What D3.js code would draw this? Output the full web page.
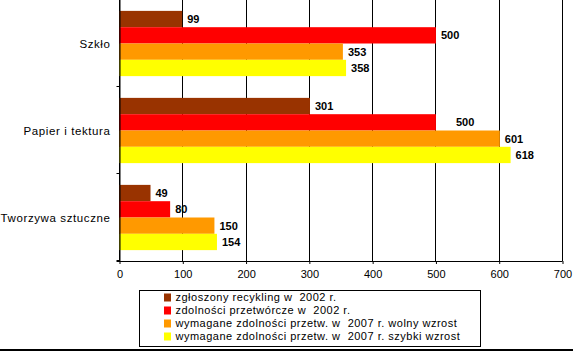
<!DOCTYPE html>
<html>
<head>
<meta charset="utf-8">
<script src="https://cdnjs.cloudflare.com/ajax/libs/d3/7.8.5/d3.min.js"></script>
<style>
  body { margin: 0; background: #fff; }
  svg { display: block; font-family: Arial, "Liberation Sans", sans-serif; }
  .tick text { font-size: 11px; fill: #000; }
  .lbl { font-size: 11px; font-weight: bold; }
  .cat { font-size: 11.5px; letter-spacing: 0.6px; }
  .leg { font-size: 11px; letter-spacing: 0.5px; }
</style>
</head>
<body>
<svg id="chart"></svg>
<script>
'use strict'

// categories, top to bottom
const categories = ['Szkło', 'Papier i tektura', 'Tworzywa sztuczne']
// series names (legend order)
const seriesNames = [
  'zgłoszony recykling w  2002 r.',
  'zdolności przetwórcze w  2002 r.',
  'wymagane zdolności przetw. w  2007 r. wolny wzrost',
  'wymagane zdolności przetw. w  2007 r. szybki wzrost'
]
// values per series, in category order
const recykling2002 = [99, 301, 49]
const zdolnosci2002 = [500, 500, 80]
const wolnyWzrost = [353, 601, 150]
const szybkiWzrost = [358, 618, 154]
const xTicks = [0, 100, 200, 300, 400, 500, 600, 700]

const colors = ['#993300', '#ff0000', '#ff9900', '#ffff00']
const seriesValues = [recykling2002, zdolnosci2002, wolnyWzrost, szybkiWzrost]

const width = 573, height = 352
const margins = {top: 0, left: 119.5, right: 10.5, bottom: 91}
const chartWidth = width - margins.left - margins.right
const chartHeight = 261

const svg = d3.select('#chart').attr('width', width).attr('height', height)
const g = svg.append('g').attr('transform', 'translate(' + margins.left + ',' + margins.top + ')')

const x = d3.scaleLinear().domain([0, 700]).range([0, chartWidth])
const y = d3.scaleBand().domain(categories).range([0, chartHeight])
const ySeries = d3.scaleBand().domain(d3.range(seriesNames.length))
  .range([0, y.bandwidth()]).paddingOuter(0.667)

// vertical gridlines
g.selectAll('line.grid')
  .data(xTicks)
  .enter().append('line')
    .attr('x1', d => x(d)).attr('x2', d => x(d))
    .attr('y1', 0).attr('y2', chartHeight)
    .attr('stroke', '#000').attr('stroke-width', 1)
    .attr('shape-rendering', 'crispEdges')

// bars
const rows = []
categories.forEach((c, ci) => {
  seriesValues.forEach((vals, si) => rows.push({cat: c, s: si, v: vals[ci]}))
})

g.selectAll('rect.bar')
  .data(rows)
  .enter().append('rect')
    .attr('x', 0)
    .attr('y', d => y(d.cat) + ySeries(d.s))
    .attr('width', d => x(d.v))
    .attr('height', ySeries.bandwidth())
    .attr('fill', d => colors[d.s])

// value labels (Excel pushed one label aside)
const nudge = {'Papier i tektura|1': 15}
g.selectAll('text.lbl')
  .data(rows)
  .enter().append('text')
    .attr('class', 'lbl')
    .attr('x', d => x(d.v) + 5 + (nudge[d.cat + '|' + d.s] || 0))
    .attr('y', d => y(d.cat) + ySeries(d.s) + ySeries.bandwidth() / 2)
    .attr('dy', '0.35em')
    .text(d => d.v)

// x axis
const xAxis = g.append('g')
  .attr('transform', 'translate(0,' + chartHeight + ')')
  .call(d3.axisBottom(x).tickValues(xTicks).tickSize(3).tickPadding(6))
xAxis.select('.domain').attr('stroke', '#000').attr('d', 'M-3,0.5H' + chartWidth)
xAxis.selectAll('.tick line').attr('stroke', '#000')

// y axis: ticks at category boundaries
g.append('line')
  .attr('x1', 0.5).attr('x2', 0.5).attr('y1', 0).attr('y2', chartHeight)
  .attr('stroke', '#000')
g.selectAll('line.ytick')
  .data(categories.concat(['end']))
  .enter().append('line')
    .attr('x1', -3).attr('x2', 0)
    .attr('y1', (d, i) => i * y.step() - 0.5)
    .attr('y2', (d, i) => i * y.step() - 0.5)
    .attr('stroke', '#000')

g.selectAll('text.cat')
  .data(categories)
  .enter().append('text')
    .attr('class', 'cat')
    .attr('x', -9)
    .attr('y', d => y(d) + y.bandwidth() / 2)
    .attr('dy', '0.35em')
    .attr('text-anchor', 'end')
    .text(d => d)

// legend
const legend = svg.append('g').attr('transform', 'translate(139.5,290.5)')
legend.append('rect')
  .attr('width', 341).attr('height', 56)
  .attr('fill', '#fff').attr('stroke', '#000')
const item = legend.selectAll('g.item')
  .data(seriesNames)
  .enter().append('g')
    .attr('transform', (d, i) => 'translate(24,' + (7 + i * 13) + ')')
item.append('rect')
  .attr('x', 0.5).attr('y', -4)
  .attr('width', 7).attr('height', 8)
  .attr('fill', (d, i) => colors[i])
item.append('text')
  .attr('class', 'leg')
  .attr('x', 12)
  .attr('dy', '0.35em')
  .style('white-space', 'pre')
  .text(d => d)

// bottom rule
svg.append('line')
  .attr('x1', 0).attr('x2', width)
  .attr('y1', 350).attr('y2', 350)
  .attr('stroke', '#000').attr('stroke-width', 2)
</script>
</body>
</html>
